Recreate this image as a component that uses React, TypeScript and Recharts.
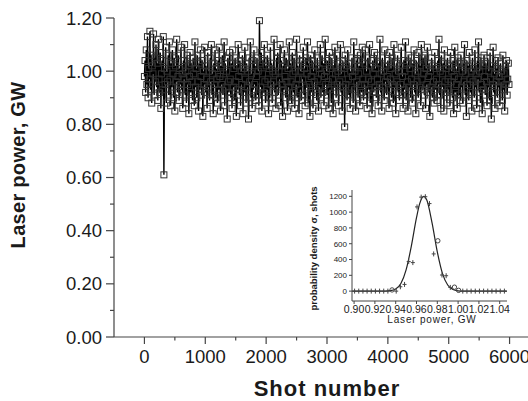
import { LineChart, ComposedChart, Line, XAxis, YAxis, Label } from "recharts"

const FONT = "'Liberation Sans', Arial, sans-serif"
const AXIS = "#444"
const INK = "#1a1a1a"

// main plot: laser power per shot, one value every SHOT_STEP shots
const SHOT_STEP = 10
const POWER = [
  0.98, 1.04, 0.92, 1.08, 0.95, 1.13, 0.9, 1.01, 0.97, 1.15, 0.93, 1.06, 0.88, 1.02, 0.99, 1.14, 0.91, 1.05, 0.96, 1.1,
  0.94, 1.03, 0.89, 1.12, 0.97, 0.92, 1.07, 0.86, 0.99, 1.04, 0.93, 1.13, 0.61, 1.01, 0.95, 1.09, 0.88, 1.0, 0.96, 1.06,
  0.91, 1.11, 0.97, 0.87, 1.03, 0.94, 1.08, 0.99, 0.9, 1.05, 0.85, 1.02, 0.96, 1.12, 0.92, 0.98, 1.06, 0.89, 1.01, 0.95,
  1.09, 0.93, 0.99, 0.86, 1.04, 0.97, 1.1, 0.91, 1.0, 0.88, 1.06, 0.95, 1.02, 0.84, 0.98, 1.07, 0.92, 1.03, 0.96, 0.89,
  1.05, 0.99, 0.87, 1.11, 0.94, 1.01, 0.9, 1.06, 0.96, 0.85, 1.03, 0.93, 1.08, 0.98, 0.91, 1.04, 0.83, 1.0, 0.95, 1.09,
  0.92, 1.02, 0.97, 0.86, 1.07, 0.94, 1.0, 0.89, 1.05, 0.96, 1.1, 0.91, 0.99, 0.84, 1.03, 0.95, 1.08, 0.9, 1.01, 0.97,
  0.88, 1.04, 0.93, 1.09, 0.98, 0.85, 1.02, 0.95, 1.06, 0.91, 0.99, 1.11, 0.87, 1.03, 0.94, 1.0, 0.82, 1.05, 0.96, 0.92,
  1.07, 0.97, 0.9, 1.03, 0.86, 1.08, 0.94, 1.01, 0.89, 1.05, 0.96, 0.83, 1.02, 0.93, 1.1, 0.98, 0.91, 1.04, 0.87, 1.0,
  0.95, 1.06, 0.84, 1.01, 0.92, 1.09, 0.97, 0.88, 1.03, 0.94, 1.0, 0.82, 1.05, 0.96, 1.11, 0.9, 0.99, 0.86, 1.04, 0.93,
  1.08, 0.95, 1.02, 0.89, 0.98, 1.05, 0.91, 1.0, 0.87, 1.19, 1.03, 0.94, 1.07, 0.85, 0.99, 1.04, 0.92, 1.1, 0.96, 0.88,
  1.02, 0.93, 1.06, 0.97, 0.84, 1.01, 0.9, 1.09, 0.95, 1.03, 0.88, 1.0, 0.96, 1.12, 0.92, 0.99, 0.86, 1.05, 0.94, 1.07,
  0.91, 1.0, 0.97, 1.1, 0.87, 1.04, 0.95, 0.83, 1.02, 0.93, 1.08, 0.98, 0.9, 1.05, 0.96, 0.85, 1.01, 0.94, 1.11, 0.89,
  1.03, 0.96, 0.88, 1.07, 0.99, 0.92, 1.05, 0.86, 1.0, 0.95, 1.12, 0.9, 1.02, 0.97, 0.84, 1.06, 0.93, 1.0, 0.89, 1.04,
  0.97, 1.09, 0.91, 1.01, 0.87, 1.05, 0.94, 0.99, 1.11, 0.88, 1.03, 0.95, 0.83, 1.06, 0.98, 0.92, 1.04, 0.86, 1.0, 0.96,
  1.08, 0.93, 1.02, 0.89, 1.05, 0.97, 0.85, 1.01, 0.94, 1.1, 0.9, 0.99, 1.06, 0.92, 1.03, 0.87, 0.98, 1.12, 0.95, 1.0,
  0.91, 1.04, 0.96, 0.86, 1.07, 0.93, 1.01, 0.88, 1.05, 0.97, 0.84, 1.02, 0.94, 1.09, 0.99, 0.9, 1.06, 0.95, 1.0, 0.87,
  1.03, 0.96, 1.1, 0.92, 0.99, 0.85, 1.04, 0.94, 1.01, 0.79, 1.06, 0.95, 1.02, 0.89, 1.08, 0.97, 0.91, 1.03, 0.86, 1.0,
  0.94, 1.05, 0.98, 0.88, 1.11, 0.93, 1.0, 0.85, 1.04, 0.96, 1.07, 0.9, 0.99, 1.02, 0.87, 1.06, 0.95, 0.92, 1.09, 0.97,
  0.89, 1.03, 0.95, 1.08, 0.91, 1.0, 0.86, 1.05, 0.97, 0.93, 1.1, 0.88, 1.02, 0.96, 0.84, 1.04, 0.99, 0.92, 1.07, 0.94,
  1.01, 0.9, 1.06, 0.97, 0.87, 1.03, 0.95, 1.12, 0.92, 0.99, 0.85, 1.05, 0.94, 1.0, 0.89, 1.08, 0.96, 1.02, 0.91, 0.98,
  1.04, 0.93, 0.86, 1.07, 0.97, 1.01, 0.9, 1.05, 0.95, 0.88, 1.1, 0.94, 0.99, 0.84, 1.03, 0.96, 1.06, 0.92, 1.0, 0.89,
  1.02, 0.95, 1.09, 0.91, 0.98, 0.86, 1.04, 0.93, 1.0, 1.11, 0.89, 1.03, 0.96, 0.85, 1.06, 0.94, 1.01, 0.9, 1.05, 0.97,
  0.88, 1.03, 0.95, 1.08, 0.92, 0.99, 0.84, 1.04, 0.96, 1.0, 0.9, 1.07, 0.94, 1.02, 0.87, 1.1, 0.97, 0.93, 1.05, 0.99,
  0.91, 1.06, 0.86, 1.01, 0.95, 1.09, 0.92, 0.98, 1.03, 0.83, 1.0, 0.94, 1.05, 0.9, 1.02, 0.96, 0.88, 1.07, 0.93, 1.01,
  0.97, 0.89, 1.04, 0.95, 1.12, 0.91, 1.0, 0.86, 1.06, 0.94, 0.99, 1.03, 0.85, 1.08, 0.96, 0.92, 1.01, 0.88, 1.05, 0.97,
  0.93, 1.02, 0.87, 1.07, 0.96, 1.0, 0.9, 1.04, 0.84, 0.98, 1.09, 0.92, 1.01, 0.95, 0.86, 1.05, 0.97, 0.91, 1.03, 0.89,
  1.06, 0.94, 1.0, 0.88, 1.03, 0.96, 1.1, 0.91, 0.99, 0.83, 1.04, 0.95, 1.02, 0.89, 1.07, 0.97, 0.92, 1.0, 0.85, 1.05,
  0.96, 1.01, 0.9, 1.08, 0.94, 0.99, 0.86, 1.04, 0.97, 1.11, 0.92, 1.0, 0.88, 1.05, 0.95, 0.84, 1.02, 0.93, 1.06, 0.98,
  0.91, 1.03, 0.96, 0.87, 1.05, 0.94, 1.0, 0.89, 1.07, 0.97, 0.82, 1.02, 0.95, 1.09, 0.92, 0.99, 0.86, 1.04, 0.96, 1.01,
  0.9, 1.05, 0.94, 0.98, 0.87, 1.03, 0.96, 1.0, 0.89, 1.06, 0.93, 0.99, 0.85, 1.02, 0.95, 1.04, 0.91, 0.97, 1.03, 0.95,
]

const X_TICKS = [0, 500, 1000, 1500, 2000, 2500, 3000, 3500, 4000, 4500, 5000, 5500, 6000, 6500]
const Y_TICKS = [0, 0.1, 0.2, 0.3, 0.4, 0.5, 0.6, 0.7, 0.8, 0.9, 1.0, 1.1, 1.2]

// inset: histogram points and gaussian fit
const FIT_X = [0.898, 0.92, 0.93, 0.935, 0.94, 0.945, 0.95, 0.955, 0.96, 0.963, 0.967, 0.97, 0.975, 0.98, 0.985, 0.99, 0.995, 1.0, 1.005, 1.047]
const FIT_Y = [0, 0, 1, 6, 27, 96, 268, 566, 930, 1105, 1200, 1150, 860, 497, 221, 77, 20, 4, 0, 0]

const CROSS_X = [0.9005, 0.9045, 0.9085, 0.9125, 0.9165, 0.9205, 0.9245, 0.9285, 0.9325, 0.9405, 0.9445, 0.9485, 0.9525, 0.9565, 0.9605, 0.9645, 0.9685, 0.9725, 0.9765, 0.9845, 0.9885, 0.9925, 1.0045, 1.0085, 1.0125, 1.0165, 1.0205, 1.0245, 1.0285, 1.0325, 1.0365, 1.0405, 1.0445]
const CROSS_Y = [0, 0, 0, 0, 0, 0, 0, 0, 0, 0, 55, 85, 374, 361, 1066, 1190, 1195, 1108, 471, 204, 195, 47, 0, 0, 0, 0, 0, 0, 0, 0, 0, 0, 0]
const RING_X = [0.9365, 0.9805, 0.9965, 1.0005]
const RING_Y = [15, 637, 50, 10]

const INSET_X_TICKS = [0.9, 0.92, 0.94, 0.96, 0.98, 1.0, 1.02, 1.04]
const INSET_Y_TICKS = [0, 200, 400, 600, 800, 1000, 1200]

const mainData = POWER.map((p, i) => ({ shot: i * SHOT_STEP, power: p }))
const fitData = FIT_X.map((x, i) => ({ x, y: FIT_Y[i] }))
const crossData = CROSS_X.map((x, i) => ({ x, y: CROSS_Y[i] }))
const ringData = RING_X.map((x, i) => ({ x, y: RING_Y[i] }))

function MainXTick({ x, y, payload }: any) {
  const major = payload.value % 1000 === 0
  return (
    <g>
      <line x1={x} x2={x} y1={y} y2={y + (major ? 7 : 3.5)} stroke={AXIS} strokeWidth={1.2} />
      {major && (
        <text x={x} y={y + 26} textAnchor="middle" fontSize={18.5} fill={INK} fontFamily={FONT}>
          {payload.value}
        </text>
      )}
    </g>
  )
}

function MainYTick({ x, y, payload }: any) {
  const major = Math.round(payload.value * 10) % 2 === 0
  return (
    <g>
      <line x1={x - (major ? 8 : 4)} x2={x} y1={y} y2={y} stroke={AXIS} strokeWidth={1.2} />
      {major && (
        <text x={x - 12} y={y} dy="0.36em" textAnchor="end" fontSize={18.5} fill={INK} fontFamily={FONT}>
          {payload.value.toFixed(2)}
        </text>
      )}
    </g>
  )
}

function InsetXTick({ x, y, payload }: any) {
  return (
    <g>
      <line x1={x} x2={x} y1={y} y2={y + 3} stroke={AXIS} />
      <text x={x} y={y + 11.5} textAnchor="middle" fontSize={10.5} fill={INK} fontFamily={FONT}>
        {payload.value.toFixed(2)}
      </text>
    </g>
  )
}

function InsetYTick({ x, y, payload }: any) {
  return (
    <g>
      <line x1={x - 3} x2={x} y1={y} y2={y} stroke={AXIS} />
      <text x={x - 5} y={y} dy="0.35em" textAnchor="end" fontSize={8} fill={INK} fontFamily={FONT}>
        {payload.value}
      </text>
    </g>
  )
}

const squareDot = ({ cx, cy, index }: any) => (
  <rect key={`s${index}`} x={cx - 3} y={cy - 3} width={6} height={6} fill="none" stroke="#333" strokeWidth={1} />
)

const crossDot = ({ cx, cy, index }: any) => (
  <path key={`c${index}`} d={`M${cx - 2},${cy}H${cx + 2}M${cx},${cy - 2.5}V${cy + 2.5}`} stroke="#444" strokeWidth={1} />
)

const ringDot = ({ cx, cy, index }: any) => (
  <circle key={`r${index}`} cx={cx} cy={cy} r={2.2} fill="none" stroke="#444" strokeWidth={1} />
)

export default function App() {
  return (
    <div style={{ position: "absolute", left: 0, top: 0, width: 528, height: 401, overflow: "hidden", background: "#fff" }}>
      <LineChart width={560} height={401} data={mainData} margin={{ top: 18, right: 20, left: 0, bottom: 0 }}>
        <XAxis
          xAxisId="main"
          type="number"
          dataKey="shot"
          domain={[-500, 6500]}
          ticks={X_TICKS}
          interval={0}
          tick={<MainXTick />}
          tickLine={false}
          tickSize={0}
          tickMargin={0}
          height={64}
          axisLine={{ stroke: AXIS, strokeWidth: 1.2 }}
        >
          <Label
            content={() => (
              <text x={327} y={396} textAnchor="middle" fontSize={22} fontWeight="bold" letterSpacing={1} fill={INK} fontFamily={FONT}>
                Shot number
              </text>
            )}
          />
        </XAxis>
        <XAxis
          xAxisId="top"
          orientation="top"
          type="number"
          domain={[-500, 6500]}
          height={0}
          tick={false}
          tickLine={false}
          axisLine={{ stroke: AXIS, strokeWidth: 1.2 }}
        />
        <YAxis
          type="number"
          domain={[0, 1.2]}
          ticks={Y_TICKS}
          interval={0}
          tick={<MainYTick />}
          tickLine={false}
          tickSize={0}
          tickMargin={0}
          width={114}
          axisLine={{ stroke: AXIS, strokeWidth: 1.2 }}
        >
          <Label
            content={() => (
              <text
                transform="translate(25,165) rotate(-90)"
                textAnchor="middle"
                fontSize={20}
                fontWeight="bold"
                letterSpacing={0.3}
                fill={INK}
                fontFamily={FONT}
              >
                Laser power, GW
              </text>
            )}
          />
        </YAxis>
        {/* squares first, then the connecting line over them, so the core turns dark */}
        <Line
          xAxisId="main"
          type="linear"
          dataKey="power"
          stroke="none"
          strokeWidth={0}
          dot={squareDot}
          activeDot={false}
          isAnimationActive={false}
        />
        <Line
          xAxisId="main"
          type="linear"
          dataKey="power"
          stroke="#000"
          strokeWidth={1.4}
          dot={false}
          activeDot={false}
          isAnimationActive={false}
        />
      </LineChart>

      <div style={{ position: "absolute", left: 300, top: 180 }}>
        <ComposedChart width={228} height={150} margin={{ top: 10, right: 21, left: 0, bottom: 0 }}>
          <XAxis
            xAxisId="b"
            type="number"
            dataKey="x"
            domain={[0.898, 1.047]}
            allowDataOverflow
            ticks={INSET_X_TICKS}
            interval={0}
            tick={<InsetXTick />}
            tickLine={false}
            tickSize={0}
            tickMargin={0}
            height={29}
            axisLine={{ stroke: AXIS }}
          >
            <Label
              content={() => (
                <text x={132} y={143} textAnchor="middle" fontSize={10} letterSpacing={0.8} fill={INK} fontFamily={FONT}>
                  Laser power, GW
                </text>
              )}
            />
          </XAxis>
          <XAxis xAxisId="t" orientation="top" type="number" domain={[0.898, 1.047]} height={0} tick={false} tickLine={false} axisLine={{ stroke: AXIS }} />
          <YAxis
            yAxisId="l"
            type="number"
            domain={[-125, 1280]}
            allowDataOverflow
            ticks={INSET_Y_TICKS}
            interval={0}
            tick={<InsetYTick />}
            tickLine={false}
            tickSize={0}
            tickMargin={0}
            width={52}
            axisLine={{ stroke: AXIS }}
          >
            <Label
              content={() => (
                <text transform="translate(16.5,68.5) rotate(-90)" textAnchor="middle" fontSize={9.5} fontWeight="bold" fill={INK} fontFamily={FONT}>
                  probability density σ, shots
                </text>
              )}
            />
          </YAxis>
          <YAxis yAxisId="r" orientation="right" type="number" domain={[-125, 1280]} width={0} tick={false} tickLine={false} axisLine={{ stroke: AXIS }} />
          <Line
            xAxisId="b"
            yAxisId="l"
            data={fitData}
            dataKey="y"
            type="monotone"
            stroke="#222"
            strokeWidth={1.2}
            dot={false}
            activeDot={false}
            isAnimationActive={false}
          />
          <Line
            xAxisId="b"
            yAxisId="l"
            data={crossData}
            dataKey="y"
            stroke="none"
            strokeWidth={0}
            dot={crossDot}
            activeDot={false}
            isAnimationActive={false}
          />
          <Line
            xAxisId="b"
            yAxisId="l"
            data={ringData}
            dataKey="y"
            stroke="none"
            strokeWidth={0}
            dot={ringDot}
            activeDot={false}
            isAnimationActive={false}
          />
        </ComposedChart>
      </div>
    </div>
  )
}
